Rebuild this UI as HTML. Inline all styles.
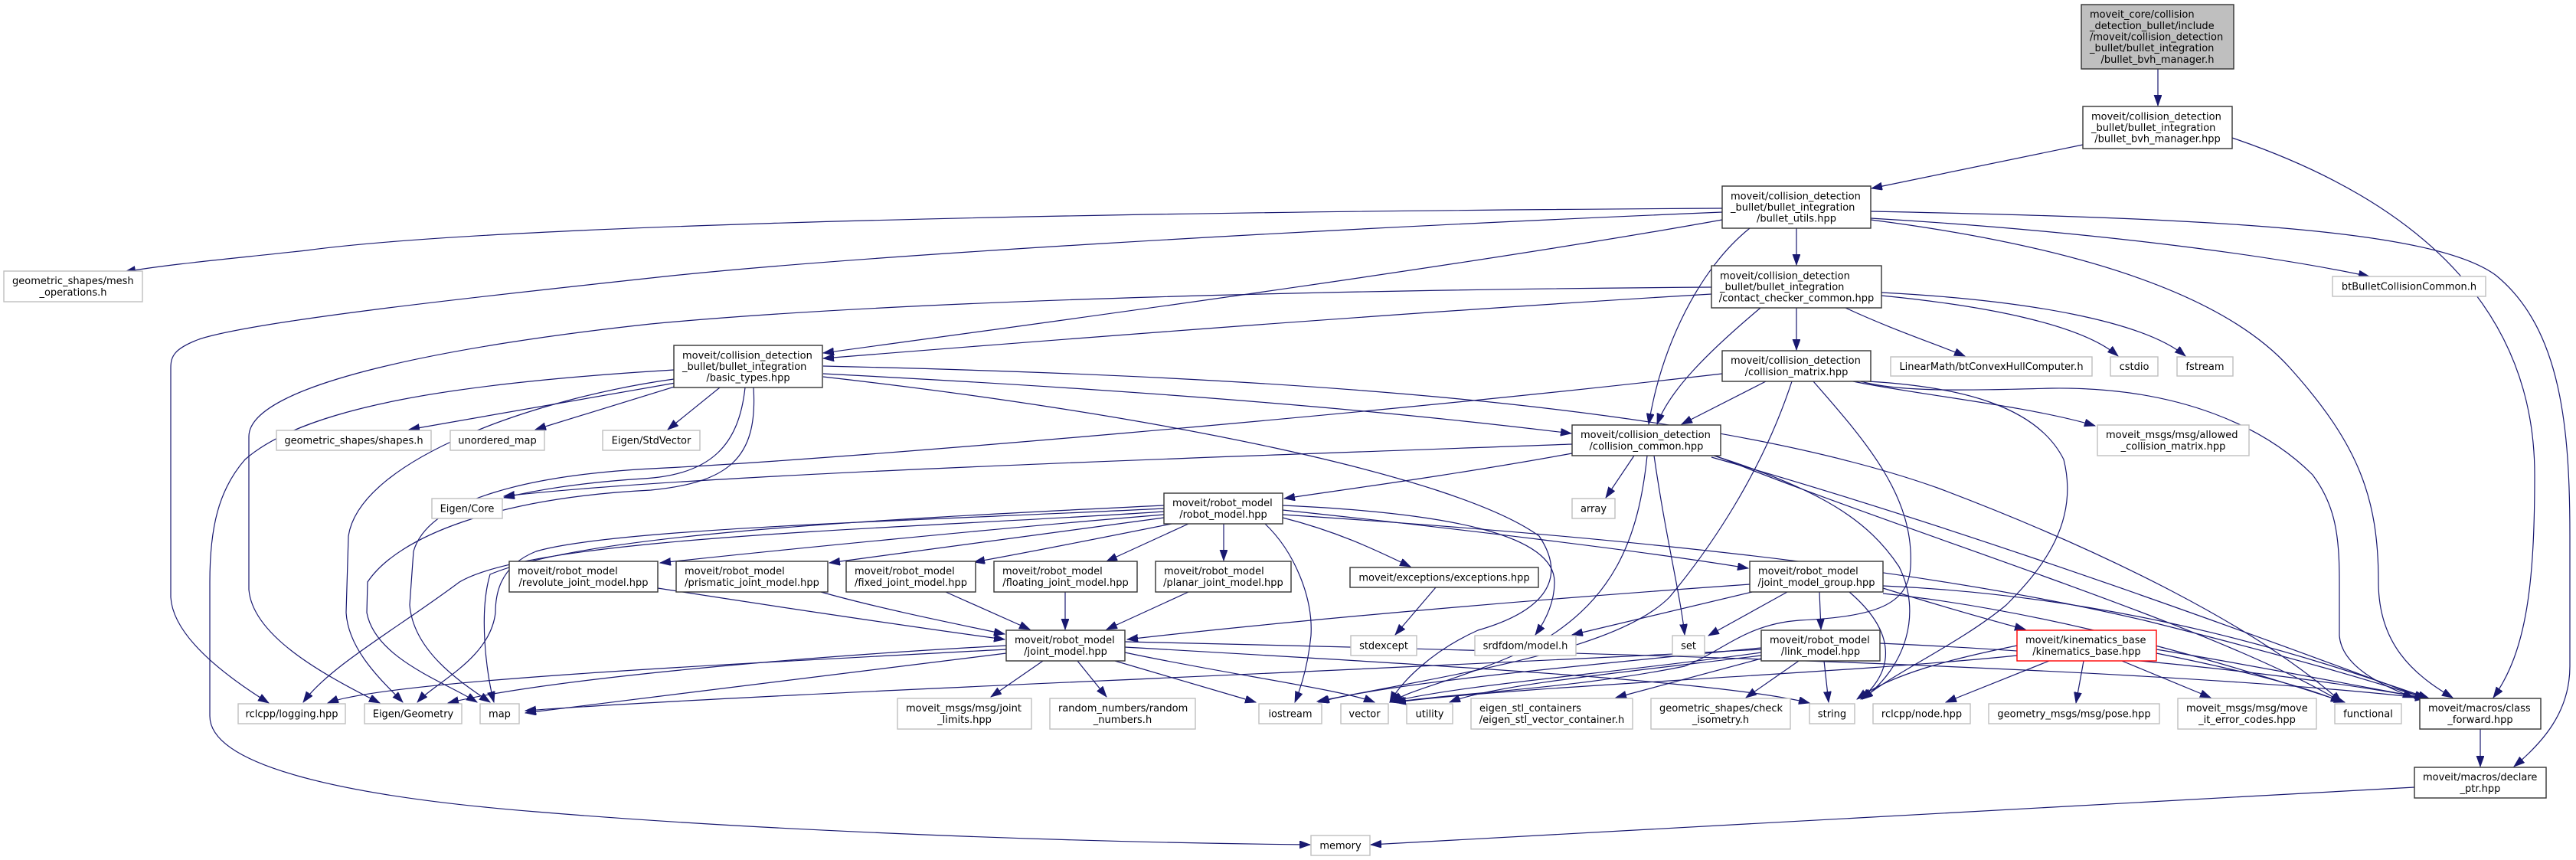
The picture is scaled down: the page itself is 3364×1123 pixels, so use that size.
<!DOCTYPE html>
<html><head><meta charset="utf-8">
<style>
html,body{margin:0;padding:0;background:#fff;}
svg{display:block;}
text{font-family:"DejaVu Sans","Liberation Sans",sans-serif;font-size:13px;fill:#000;}
.e{fill:none;stroke:#191970;stroke-width:1.2;marker-end:url(#a);}
.nb{fill:#fff;stroke:#333;stroke-width:1.4;}
.ng{fill:#fff;stroke:#bfbfbf;stroke-width:1.4;}
.nr{fill:#fff;stroke:#ff0000;stroke-width:1.4;}
.c{text-anchor:middle;}
</style></head>
<body>
<svg width="3364" height="1123" viewBox="0 0 3364 1123" xmlns="http://www.w3.org/2000/svg">
<defs>
<marker id="a" markerUnits="userSpaceOnUse" markerWidth="15" markerHeight="11" refX="14" refY="5" orient="auto">
<path d="M0,0 L14,5 L0,10 z" fill="#191970" stroke="#191970" stroke-width="0.8"/>
</marker>
</defs>
<g>
<!-- top edges -->
<path class="e" d="M2818,90 L2818,138"/>
<path class="e" d="M2720,189 L2444,246"/>
<path class="e" d="M2915,180 C3180,270 3310,420 3310,620 C3310,760 3300,850 3256,911"/>
<path class="e" d="M2443,276 C2900,285 3180,300 3260,360 C3345,430 3356,560 3356,700 L3356,870 C3356,930 3320,970 3283,1001"/>
<path class="e" d="M2443,285 C2700,300 2950,330 3094,361"/>
<path class="e" d="M2443,287 C2700,320 2900,380 2990,480 C3080,580 3106,650 3106,760 C3106,840 3150,880 3203,911"/>
<path class="e" d="M2346,298 L2346,346"/>
<path class="e" d="M2285,298 C2220,350 2170,450 2153,554"/>
<path class="e" d="M2249,287 C1900,350 1300,430 1075,461"/>
<path class="e" d="M2249,272 C1200,278 600,300 400,327 C300,338 220,345 163,355"/>
<path class="e" d="M2249,277 C1700,300 1100,335 850,363 C600,390 330,420 260,443 C228,455 223,465 223,480 L223,780 C226,830 290,880 351,918"/>
<path class="e" d="M2235,384 C1800,410 1300,450 1075,468"/>
<path class="e" d="M2235,375 C1800,378 1200,390 850,423 C600,450 325,500 325,570 L325,770 C330,830 420,880 496,918"/>
<path class="e" d="M2299,402 C2230,460 2180,510 2164,554"/>
<path class="e" d="M2346,402 L2346,457"/>
<path class="e" d="M2410,402 C2470,430 2530,450 2566,465"/>
<path class="e" d="M2457,386 C2600,400 2720,425 2766,465"/>
<path class="e" d="M2457,382 C2650,392 2800,420 2854,465"/>
<!-- collision_matrix -->
<path class="e" d="M2306,498 L2196,554"/>
<path class="e" d="M2420,498 C2500,515 2650,530 2736,556"/>
<path class="e" d="M2430,498 C2480,512 2560,510 2680,507 C2850,505 2960,560 3020,620 C3050,660 3055,700 3055,760 L3055,830 C3058,870 3110,895 3152,911"/>
<path class="e" d="M2368,498 C2440,580 2500,650 2495,740 C2492,790 2450,805 2350,810 C2280,815 2250,850 2200,870 C2050,900 1900,905 1820,917"/>
<path class="e" d="M2340,498 C2300,620 2230,720 2180,780 C2110,850 1900,880 1720,916"/>
<path class="e" d="M2249,488 C1800,540 1100,600 850,612 C700,620 560,650 540,720 L535,790 C540,850 600,890 640,917"/>
<path class="e" d="M2440,498 C2560,505 2660,530 2695,600 C2715,680 2670,740 2620,790 C2560,840 2470,880 2432,913"/>
<!-- basic_types -->
<path class="e" d="M882,500 L534,561"/>
<path class="e" d="M884,504 L699,561"/>
<path class="e" d="M940,506 L872,561"/>
<path class="e" d="M973,506 C965,580 930,620 840,625 C760,630 700,640 658,650"/>
<path class="e" d="M984,506 C990,600 950,630 850,640 C650,650 520,700 480,760 L479,800 C490,860 580,890 623,917"/>
<path class="e" d="M880,483 C600,500 400,530 320,600 C285,640 274,690 274,760 L274,935 C274,1000 450,1040 700,1060 C1000,1085 1400,1100 1711,1103"/>
<path class="e" d="M1075,488 C1500,510 1800,535 2052,566"/>
<path class="e" d="M1075,478 C1600,490 2200,520 2530,637 C2750,720 2950,820 3058,917"/>
<path class="e" d="M1075,492 C1500,540 1900,620 2010,700 C2050,760 2010,800 1930,823 C1870,850 1830,890 1815,917"/>
<path class="e" d="M880,495 C700,520 470,600 455,700 L452,800 C455,850 500,890 526,917"/>
<!-- collision_common -->
<path class="e" d="M2134,595 L2097,650"/>
<path class="e" d="M2053,580 C1500,600 900,620 658,648"/>
<path class="e" d="M2053,592 C1900,620 1750,640 1677,651"/>
<path class="e" d="M2151,595 C2140,700 2110,790 1990,850 C1900,890 1840,900 1818,917"/>
<path class="e" d="M2160,595 C2175,700 2195,780 2200,829"/>
<path class="e" d="M2238,595 C2380,640 2440,680 2480,740 C2510,800 2490,870 2432,913"/>
<path class="e" d="M2240,595 C2500,700 2900,820 3058,917"/>
<path class="e" d="M2235,597 C2600,700 3000,850 3167,912"/>
<!-- robot_model -->
<path class="e" d="M1520,672 C1300,690 1000,720 862,735"/>
<path class="e" d="M1520,676 C1350,700 1200,720 1083,735"/>
<path class="e" d="M1530,684 C1450,700 1350,720 1272,734"/>
<path class="e" d="M1552,684 L1445,733"/>
<path class="e" d="M1598,684 L1598,732"/>
<path class="e" d="M1675,676 C1750,695 1800,720 1842,740"/>
<path class="e" d="M1675,666 C1900,690 2150,720 2283,742"/>
<path class="e" d="M1652,684 C1690,720 1715,780 1712,830 C1708,870 1698,900 1691,917"/>
<path class="e" d="M1675,660 C1900,670 2030,700 2030,760 C2030,790 2015,815 2005,829"/>
<path class="e" d="M1675,672 C2100,700 2500,740 2800,810 C3000,860 3100,890 3168,912"/>
<path class="e" d="M1520,668 C1200,690 700,700 600,760 C520,820 430,870 396,917"/>
<path class="e" d="M1520,664 C1200,680 800,690 700,720 C650,740 647,780 647,800 C640,860 570,890 545,917"/>
<path class="e" d="M1520,660 C1100,680 760,700 640,750 C625,800 635,880 645,917"/>
<!-- joint_model_group -->
<path class="e" d="M2285,763 C1900,790 1600,820 1472,835"/>
<path class="e" d="M2288,773 L2053,829"/>
<path class="e" d="M2334,773 L2231,830"/>
<path class="e" d="M2376,773 L2378,822"/>
<path class="e" d="M2459,768 C2530,790 2600,810 2645,822"/>
<path class="e" d="M2415,773 C2470,820 2480,870 2430,913"/>
<path class="e" d="M2459,775 C2700,800 2950,880 3062,917"/>
<path class="e" d="M2459,765 C2800,780 3050,870 3172,912"/>
<!-- link_model -->
<path class="e" d="M2349,863 L2280,911"/>
<path class="e" d="M2382,863 L2388,917"/>
<path class="e" d="M2300,860 L2110,911"/>
<path class="e" d="M2300,852 C2100,880 1900,895 1815,917"/>
<path class="e" d="M2300,846 C2000,875 1800,895 1722,917"/>
<path class="e" d="M2300,856 C2100,880 1950,895 1893,917"/>
<path class="e" d="M2300,848 C1700,880 1000,905 686,928"/>
<path class="e" d="M2455,840 C2800,855 3050,890 3168,912"/>
<!-- joint_model -->
<path class="e" d="M1362,863 L1294,910"/>
<path class="e" d="M1407,863 L1445,910"/>
<path class="e" d="M1456,863 L1640,917"/>
<path class="e" d="M1469,852 C1600,880 1750,900 1795,917"/>
<path class="e" d="M1469,845 C1900,870 2250,890 2363,918"/>
<path class="e" d="M1469,838 C2000,850 2800,870 3168,912"/>
<path class="e" d="M1314,853 C1000,890 800,915 686,931"/>
<path class="e" d="M1314,843 C1000,860 700,890 585,918"/>
<path class="e" d="M1314,848 C900,870 500,890 428,918"/>
<!-- kinematics_base -->
<path class="e" d="M2721,863 L2711,918"/>
<path class="e" d="M2676,863 L2541,917"/>
<path class="e" d="M2771,863 L2887,911"/>
<path class="e" d="M2816,853 C2950,880 3020,900 3058,917"/>
<path class="e" d="M2816,848 C2950,870 3100,900 3170,912"/>
<path class="e" d="M2634,843 C2550,860 2470,880 2425,913"/>
<path class="e" d="M2634,856 C2400,880 2000,895 1822,917"/>
<!-- joint submodels -->
<path class="e" d="M859,768 C1000,790 1200,820 1312,835"/>
<path class="e" d="M1072,773 C1150,795 1250,815 1312,828"/>
<path class="e" d="M1235,773 L1345,822"/>
<path class="e" d="M1391,773 L1391,822"/>
<path class="e" d="M1552,773 L1445,822"/>
<!-- misc -->
<path class="e" d="M1875,767 L1822,829"/>
<path class="e" d="M3239,952 L3239,1001"/>
<path class="e" d="M3153,1028 C2500,1060 2100,1085 1790,1103"/>
</g>

<g>
<rect x="2718" y="6" width="199" height="84" fill="#bfbfbf" stroke="#333" stroke-width="1.4"/>
<text x="2729" y="23.1">moveit_core/collision</text>
<text x="2729" y="37.8">_detection_bullet/include</text>
<text x="2729" y="52.5">/moveit/collision_detection</text>
<text x="2729" y="67.2">_bullet/bullet_integration</text>
<text x="2817.5" y="81.9" class="c">/bullet_bvh_manager.h</text>

<rect class="nb" x="2720" y="139" width="195" height="55"/>
<text x="2731" y="156.3">moveit/collision_detection</text>
<text x="2731" y="171">_bullet/bullet_integration</text>
<text x="2817.5" y="185.7" class="c">/bullet_bvh_manager.hpp</text>

<rect class="nb" x="2249" y="243" width="194" height="55"/>
<text x="2260" y="260.3">moveit/collision_detection</text>
<text x="2260" y="275">_bullet/bullet_integration</text>
<text x="2346" y="289.7" class="c">/bullet_utils.hpp</text>

<rect class="nb" x="2235" y="347" width="222" height="55"/>
<text x="2246" y="364.3">moveit/collision_detection</text>
<text x="2246" y="379">_bullet/bullet_integration</text>
<text x="2346" y="393.7" class="c">/contact_checker_common.hpp</text>

<rect class="ng" x="5" y="354" width="181" height="40"/>
<text x="16" y="371.1">geometric_shapes/mesh</text>
<text x="95.5" y="385.8" class="c">_operations.h</text>

<rect class="ng" x="3046" y="361" width="200" height="26"/>
<text x="3146" y="378.5" class="c">btBulletCollisionCommon.h</text>

<rect class="nb" x="880" y="451" width="194" height="55"/>
<text x="891" y="468.3">moveit/collision_detection</text>
<text x="891" y="483">_bullet/bullet_integration</text>
<text x="977" y="497.7" class="c">/basic_types.hpp</text>

<rect class="nb" x="2249" y="458" width="194" height="40"/>
<text x="2260" y="475.1">moveit/collision_detection</text>
<text x="2346" y="489.8" class="c">/collision_matrix.hpp</text>

<rect class="ng" x="2469" y="466" width="263" height="25"/>
<text x="2600.5" y="483" class="c">LinearMath/btConvexHullComputer.h</text>

<rect class="ng" x="2756" y="466" width="62" height="25"/>
<text x="2787" y="483" class="c">cstdio</text>

<rect class="ng" x="2843" y="466" width="73" height="25"/>
<text x="2879.5" y="483" class="c">fstream</text>

<rect class="ng" x="361" y="562" width="202" height="26"/>
<text x="462" y="579.5" class="c">geometric_shapes/shapes.h</text>

<rect class="ng" x="588" y="562" width="123" height="26"/>
<text x="649.5" y="579.5" class="c">unordered_map</text>

<rect class="ng" x="787" y="562" width="127" height="26"/>
<text x="850.5" y="579.5" class="c">Eigen/StdVector</text>

<rect class="nb" x="2053" y="555" width="194" height="40"/>
<text x="2064" y="572.1">moveit/collision_detection</text>
<text x="2150" y="586.8" class="c">/collision_common.hpp</text>

<rect class="ng" x="2739" y="555" width="198" height="40"/>
<text x="2750" y="572.1">moveit_msgs/msg/allowed</text>
<text x="2838" y="586.8" class="c">_collision_matrix.hpp</text>

<rect class="ng" x="564" y="651" width="92" height="26"/>
<text x="610" y="668.5" class="c">Eigen/Core</text>

<rect class="ng" x="2053" y="651" width="56" height="26"/>
<text x="2081" y="668.5" class="c">array</text>

<rect class="nb" x="1520" y="644" width="155" height="40"/>
<text x="1531" y="661.1">moveit/robot_model</text>
<text x="1597.5" y="675.8" class="c">/robot_model.hpp</text>

<rect class="nb" x="665" y="733" width="194" height="40"/>
<text x="676" y="750.1">moveit/robot_model</text>
<text x="762" y="764.8" class="c">/revolute_joint_model.hpp</text>

<rect class="nb" x="883" y="733" width="198" height="40"/>
<text x="894" y="750.1">moveit/robot_model</text>
<text x="982" y="764.8" class="c">/prismatic_joint_model.hpp</text>

<rect class="nb" x="1105" y="733" width="169" height="40"/>
<text x="1116" y="750.1">moveit/robot_model</text>
<text x="1189.5" y="764.8" class="c">/fixed_joint_model.hpp</text>

<rect class="nb" x="1298" y="733" width="187" height="40"/>
<text x="1309" y="750.1">moveit/robot_model</text>
<text x="1391.5" y="764.8" class="c">/floating_joint_model.hpp</text>

<rect class="nb" x="1509" y="733" width="177" height="40"/>
<text x="1520" y="750.1">moveit/robot_model</text>
<text x="1597.5" y="764.8" class="c">/planar_joint_model.hpp</text>

<rect class="nb" x="1763" y="741" width="246" height="26"/>
<text x="1886" y="758.5" class="c">moveit/exceptions/exceptions.hpp</text>

<rect class="nb" x="2285" y="733" width="174" height="40"/>
<text x="2296" y="750.1">moveit/robot_model</text>
<text x="2372" y="764.8" class="c">/joint_model_group.hpp</text>

<rect class="ng" x="1764" y="830" width="86" height="26"/>
<text x="1807" y="847.5" class="c">stdexcept</text>

<rect class="ng" x="1926" y="830" width="132" height="26"/>
<text x="1992" y="847.5" class="c">srdfdom/model.h</text>

<rect class="ng" x="2184" y="830" width="42" height="26"/>
<text x="2205" y="847.5" class="c">set</text>

<rect class="nb" x="1314" y="823" width="155" height="40"/>
<text x="1325" y="840.1">moveit/robot_model</text>
<text x="1391.5" y="854.8" class="c">/joint_model.hpp</text>

<rect class="nb" x="2300" y="823" width="155" height="40"/>
<text x="2311" y="840.1">moveit/robot_model</text>
<text x="2377.5" y="854.8" class="c">/link_model.hpp</text>

<rect class="nr" x="2634" y="823" width="182" height="40"/>
<text x="2645" y="840.1">moveit/kinematics_base</text>
<text x="2725" y="854.8" class="c">/kinematics_base.hpp</text>

<rect class="ng" x="311" y="919" width="140" height="26"/>
<text x="381" y="936.5" class="c">rclcpp/logging.hpp</text>

<rect class="ng" x="476" y="919" width="127" height="26"/>
<text x="539.5" y="936.5" class="c">Eigen/Geometry</text>

<rect class="ng" x="627" y="919" width="51" height="26"/>
<text x="652.5" y="936.5" class="c">map</text>

<rect class="ng" x="1172" y="912" width="175" height="40"/>
<text x="1183" y="929.1">moveit_msgs/msg/joint</text>
<text x="1259.5" y="943.8" class="c">_limits.hpp</text>

<rect class="ng" x="1371" y="912" width="190" height="40"/>
<text x="1382" y="929.1">random_numbers/random</text>
<text x="1466" y="943.8" class="c">_numbers.h</text>

<rect class="ng" x="1644" y="919" width="82" height="26"/>
<text x="1685" y="936.5" class="c">iostream</text>

<rect class="ng" x="1751" y="919" width="62" height="26"/>
<text x="1782" y="936.5" class="c">vector</text>

<rect class="ng" x="1837" y="919" width="60" height="26"/>
<text x="1867" y="936.5" class="c">utility</text>

<rect class="ng" x="1921" y="912" width="211" height="40"/>
<text x="1932" y="929.1">eigen_stl_containers</text>
<text x="2026.5" y="943.8" class="c">/eigen_stl_vector_container.h</text>

<rect class="ng" x="2156" y="912" width="182" height="40"/>
<text x="2167" y="929.1">geometric_shapes/check</text>
<text x="2247" y="943.8" class="c">_isometry.h</text>

<rect class="ng" x="2363" y="919" width="59" height="26"/>
<text x="2392.5" y="936.5" class="c">string</text>

<rect class="ng" x="2446" y="919" width="127" height="26"/>
<text x="2509.5" y="936.5" class="c">rclcpp/node.hpp</text>

<rect class="ng" x="2597" y="919" width="223" height="26"/>
<text x="2708.5" y="936.5" class="c">geometry_msgs/msg/pose.hpp</text>

<rect class="ng" x="2844" y="912" width="181" height="40"/>
<text x="2855" y="929.1">moveit_msgs/msg/move</text>
<text x="2934.5" y="943.8" class="c">_it_error_codes.hpp</text>

<rect class="ng" x="3049" y="919" width="87" height="26"/>
<text x="3092.5" y="936.5" class="c">functional</text>

<rect class="nb" x="3160" y="912" width="158" height="40"/>
<text x="3171" y="929.1">moveit/macros/class</text>
<text x="3239" y="943.8" class="c">_forward.hpp</text>

<rect class="nb" x="3153" y="1002" width="172" height="40"/>
<text x="3164" y="1019.1">moveit/macros/declare</text>
<text x="3239" y="1033.8" class="c">_ptr.hpp</text>

<rect class="ng" x="1712" y="1091" width="77" height="26"/>
<text x="1750.5" y="1108.5" class="c">memory</text>
</g>
</svg>
</body></html>
